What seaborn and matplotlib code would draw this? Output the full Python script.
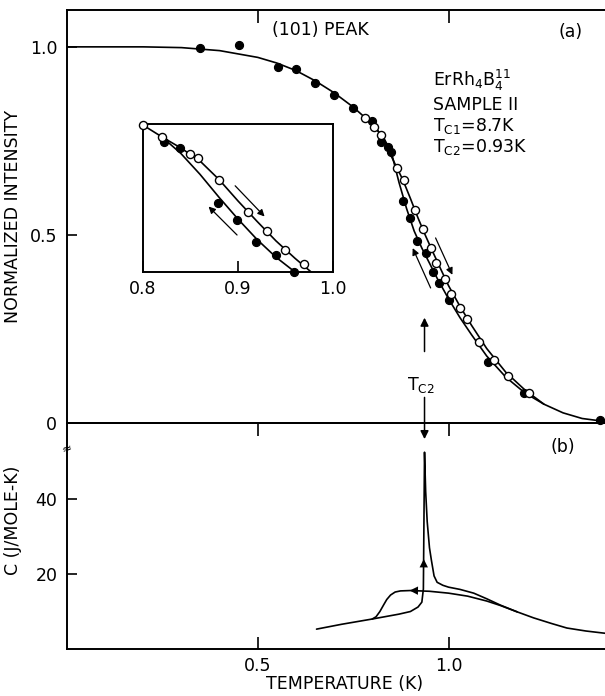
import matplotlib
matplotlib.use("Agg")
import matplotlib.pyplot as plt
import seaborn as sns

# (a) neutron (101) peak intensity, filled = cooling, open = warming
cool_T = [0.348, 0.45, 0.553, 0.60, 0.649, 0.70, 0.749, 0.80, 0.824, 0.842, 0.848,
          0.880, 0.900, 0.918, 0.940, 0.960, 0.976, 1.000, 1.103, 1.199, 1.398]
cool_I = [0.997, 1.005, 0.947, 0.940, 0.904, 0.872, 0.838, 0.803, 0.748, 0.734, 0.721,
          0.590, 0.545, 0.484, 0.451, 0.401, 0.372, 0.327, 0.162, 0.080, 0.008]
warm_T = [0.781, 0.805, 0.822, 0.864, 0.882, 0.911, 0.932, 0.953, 0.968, 0.990,
          1.007, 1.029, 1.049, 1.081, 1.120, 1.157, 1.210]
warm_I = [0.811, 0.787, 0.766, 0.678, 0.646, 0.566, 0.515, 0.465, 0.425, 0.383,
          0.343, 0.306, 0.277, 0.215, 0.168, 0.125, 0.080]

# fitted curves drawn through the data
fit_cool_T = [0.0, 0.2, 0.3, 0.4, 0.5, 0.55, 0.6, 0.65, 0.7, 0.75, 0.8, 0.83, 0.85,
              0.87, 0.89, 0.91, 0.93, 0.95, 0.97, 1.0, 1.03, 1.06, 1.1, 1.15, 1.2,
              1.25, 1.3, 1.35, 1.41]
fit_cool_I = [1.0, 1.0, 0.998, 0.99, 0.972, 0.957, 0.937, 0.91, 0.878, 0.84, 0.795,
              0.758, 0.72, 0.64, 0.57, 0.51, 0.465, 0.425, 0.385, 0.33, 0.28, 0.235,
              0.178, 0.122, 0.08, 0.05, 0.027, 0.012, 0.004]
fit_warm_T = [0.80, 0.82, 0.84, 0.86, 0.88, 0.90, 0.92, 0.94, 0.96, 0.98, 1.0, 1.03,
              1.06, 1.1, 1.15, 1.2, 1.25]
fit_warm_I = [0.795, 0.77, 0.73, 0.688, 0.647, 0.597, 0.545, 0.497, 0.452, 0.408,
              0.365, 0.31, 0.26, 0.198, 0.135, 0.088, 0.05]

# inset (expanded view 0.8 - 1.0 K)
ins_cool_T = [0.822, 0.839, 0.879, 0.899, 0.919, 0.940, 0.959]
ins_cool_I = [0.752, 0.736, 0.586, 0.541, 0.482, 0.446, 0.400]
ins_warm_T = [0.800, 0.820, 0.849, 0.858, 0.880, 0.910, 0.930, 0.949, 0.969]
ins_warm_I = [0.797, 0.766, 0.719, 0.707, 0.649, 0.563, 0.511, 0.459, 0.421]
ins_fit_cool_T = [0.82, 0.84, 0.86, 0.88, 0.90, 0.92, 0.94, 0.96]
ins_fit_cool_I = [0.765, 0.72, 0.664, 0.602, 0.543, 0.488, 0.44, 0.40]
ins_fit_warm_T = [0.80, 0.82, 0.84, 0.86, 0.88, 0.90, 0.92, 0.94, 0.96, 0.977]
ins_fit_warm_I = [0.797, 0.765, 0.735, 0.70, 0.65, 0.592, 0.537, 0.484, 0.437, 0.40]

# (b) specific heat
heat_warm_T = [0.654, 0.72, 0.80, 0.87, 0.90, 0.92, 0.93, 0.934, 0.937, 0.940,
               0.944, 0.950, 0.955, 0.962, 0.970, 0.985, 1.0, 1.03, 1.066, 1.10,
               1.136, 1.18, 1.223, 1.27, 1.31, 1.36, 1.41]
heat_warm_C = [5.3, 6.6, 8.0, 9.3, 10.0, 11.2, 12.5, 16.0, 52.5, 42.0,
               34.0, 27.0, 23.7, 19.5, 17.8, 17.0, 16.5, 15.9, 14.9, 13.4,
               11.7, 9.9, 8.3, 6.8, 5.6, 4.8, 4.2]
heat_cool_T = [1.18, 1.136, 1.10, 1.05, 1.0, 0.95, 0.90, 0.874, 0.86, 0.848,
               0.838, 0.83, 0.82, 0.81, 0.80]
heat_cool_C = [9.9, 11.6, 12.8, 14.1, 14.9, 15.4, 15.6, 15.5, 15.2, 14.4,
               13.2, 11.8, 10.0, 8.6, 8.0]

sns.set_style("ticks")
plt.rcParams["font.family"] = ["DejaVu Sans"]
plt.rcParams["font.size"] = 12.5
for key in ("text.color", "axes.labelcolor", "xtick.color", "ytick.color"):
    plt.rcParams[key] = "black"

fig = plt.figure(figsize=(6.05, 6.96), dpi=100)
W, H = 605, 696
ax_top = fig.add_axes([67 / W, 1 - 423 / H, 538 / W, 413 / H])
ax_bot = fig.add_axes([67 / W, 1 - 649 / H, 538 / W, 226 / H])
ax_in = fig.add_axes([143 / W, 1 - 272 / H, 190 / W, 148 / H])
for ax in (ax_top, ax_bot, ax_in):
    ax.patch.set_facecolor("none")
    for s in ax.spines.values():
        s.set_linewidth(1.4)
        s.set_color("black")

line_kw = dict(color="black", linewidth=1.2, sort=False, estimator=None)
filled_kw = dict(color="black", edgecolor="black", s=34, linewidth=0.8, zorder=3, clip_on=False)
open_kw = dict(color="white", edgecolor="black", s=34, linewidth=1.0, zorder=4, clip_on=False)

# ---- top panel
sns.lineplot(x=fit_cool_T, y=fit_cool_I, ax=ax_top, **line_kw)
sns.lineplot(x=fit_warm_T, y=fit_warm_I, ax=ax_top, **line_kw)
sns.scatterplot(x=cool_T, y=cool_I, ax=ax_top, **filled_kw)
sns.scatterplot(x=warm_T, y=warm_I, ax=ax_top, **open_kw)
ax_top.set_xlim(0, 1.41)
ax_top.set_ylim(0, 1.098)
ax_top.spines["right"].set_visible(False)
ax_top.set_yticks([0, 0.5, 1.0])
ax_top.set_yticklabels(["0", "0.5", "1.0"])
ax_top.set_xticks([0.5, 1.0])
ax_top.tick_params(axis="x", top=True, bottom=False, labelbottom=False,
                   direction="in", length=9, width=1.2)
ax_top.tick_params(axis="y", direction="in", length=7, width=1.2, pad=7)
ax_top.set_ylabel("NORMALIZED INTENSITY")
ax_top.yaxis.set_label_coords(-0.084, 0.50)
ax_top.set_xlabel("")

ax_top.text(0.665, 1.045, "(101) PEAK", ha="center", va="center")
ax_top.text(1.32, 1.04, "(a)", ha="center", va="center")
ax_top.text(0.96, 0.912, r"ErRh$_4$B$_4^{11}$", ha="left", va="center")
ax_top.text(0.96, 0.846, "SAMPLE II", ha="left", va="center")
ax_top.text(0.96, 0.79, r"T$_{\mathregular{C1}}$=8.7K", ha="left", va="center")
ax_top.text(0.96, 0.734, r"T$_{\mathregular{C2}}$=0.93K", ha="left", va="center")

arrow_thin = dict(arrowstyle="-|>", color="black", lw=0.9, mutation_scale=10,
                  shrinkA=0, shrinkB=0)
ax_top.annotate("", xy=(0.906, 0.465), xytext=(0.953, 0.359), arrowprops=arrow_thin)
ax_top.annotate("", xy=(1.01, 0.394), xytext=(0.966, 0.492), arrowprops=arrow_thin)

# T_C2 marker
ax_top.annotate("", xy=(0.937, 0.28), xytext=(0.937, 0.19),
                arrowprops=dict(arrowstyle="-|>", color="black", lw=1.1,
                                mutation_scale=12, shrinkA=0, shrinkB=0))
ax_top.text(0.927, 0.10, r"T$_{\mathregular{C2}}$", ha="center", va="center")
ax_top.annotate("", xy=(0.937, 56.0), xycoords=ax_bot.transData,
                xytext=(0.937, 0.068), textcoords=ax_top.transData,
                arrowprops=dict(arrowstyle="-|>", color="black", lw=1.1,
                                mutation_scale=12, shrinkA=0, shrinkB=0),
                annotation_clip=False)

# ---- inset
sns.lineplot(x=ins_fit_cool_T, y=ins_fit_cool_I, ax=ax_in, **line_kw)
sns.lineplot(x=ins_fit_warm_T, y=ins_fit_warm_I, ax=ax_in, **line_kw)
sns.scatterplot(x=ins_cool_T, y=ins_cool_I, ax=ax_in, **filled_kw)
sns.scatterplot(x=ins_warm_T, y=ins_warm_I, ax=ax_in, **open_kw)
ax_in.set_xlim(0.8, 1.0)
ax_in.set_ylim(0.40, 0.80)
ax_in.set_xticks([0.8, 0.9, 1.0])
ax_in.set_xticklabels(["0.8", "0.9", "1.0"])
ax_in.set_yticks([])
ax_in.tick_params(axis="x", direction="in", length=8, width=1.2, pad=6)
ax_in.set_xlabel("")
ax_in.set_ylabel("")
ax_in.annotate("", xy=(0.928, 0.55), xytext=(0.897, 0.633), arrowprops=arrow_thin)
ax_in.annotate("", xy=(0.869, 0.577), xytext=(0.899, 0.50), arrowprops=arrow_thin)

# ---- bottom panel
sns.lineplot(x=heat_warm_T, y=heat_warm_C, ax=ax_bot, **line_kw)
sns.lineplot(x=heat_cool_T, y=heat_cool_C, ax=ax_bot, **line_kw)
head_kw = dict(arrowstyle="-|>", color="black", lw=0.01, mutation_scale=15,
               shrinkA=0, shrinkB=0)
ax_bot.annotate("", xy=(0.935, 24.0), xytext=(0.935, 18.0), arrowprops=head_kw)
ax_bot.annotate("", xy=(0.898, 15.6), xytext=(0.93, 15.55), arrowprops=head_kw)
ax_bot.set_xlim(0, 1.41)
ax_bot.set_ylim(0, 60.3)
ax_bot.spines["right"].set_visible(False)
ax_bot.set_xticks([0.5, 1.0])
ax_bot.set_xticklabels(["0.5", "1.0"])
ax_bot.set_yticks([20, 40])
ax_bot.tick_params(axis="x", top=True, bottom=True, direction="in", length=9,
                   width=1.2, pad=6)
ax_bot.tick_params(axis="y", direction="in", length=7, width=1.2, pad=7)
ax_bot.set_ylabel("C (J/MOLE-K)")
ax_bot.yaxis.set_label_coords(-0.084, 0.57)
ax_bot.set_xlabel("TEMPERATURE (K)")
ax_bot.xaxis.set_label_coords(0.515, -0.115)
ax_bot.text(1.30, 54, "(b)", ha="center", va="center")
ax_bot.text(0.0, 53.5, "≈", ha="center", va="center", fontsize=9, rotation=20,
            clip_on=False)

fig.savefig("out.png", dpi=100)
